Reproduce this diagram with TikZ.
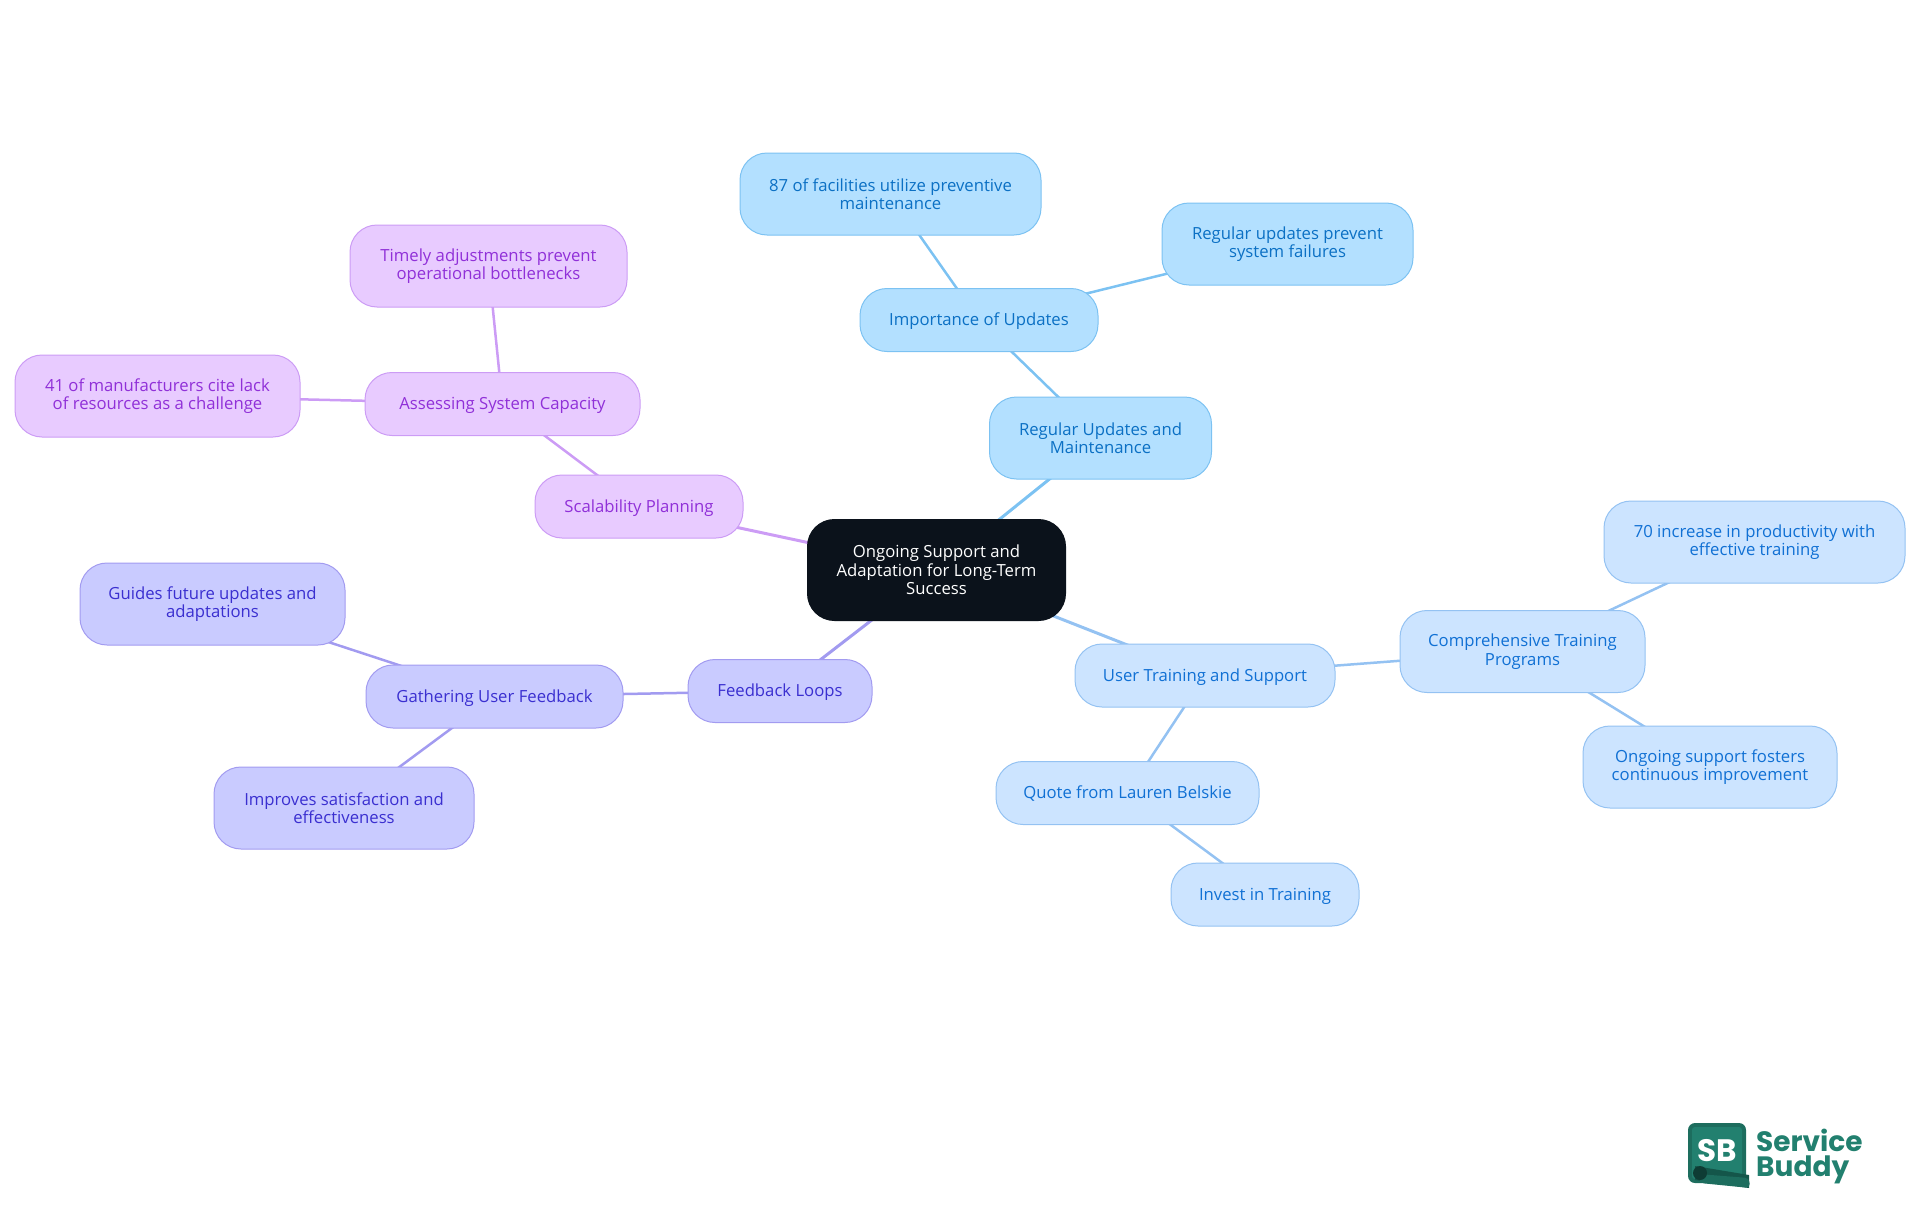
\documentclass[tikz,border=0pt]{standalone}
\usepackage{fontspec}
\setmainfont{Open Sans}
\newfontfamily\logofont{Poppins}
\usetikzlibrary{backgrounds}
\definecolor{rootfill}{HTML}{0B121B}
\definecolor{skyfill}{HTML}{B3E0FF}
\definecolor{skyline}{HTML}{7CC2F2}
\definecolor{skytext}{HTML}{0B70C4}
\definecolor{palefill}{HTML}{CCE4FF}
\definecolor{paleline}{HTML}{94C2F2}
\definecolor{paletext}{HTML}{1070D4}
\definecolor{indigofill}{HTML}{C9CBFF}
\definecolor{indigoline}{HTML}{A29BF0}
\definecolor{indigotext}{HTML}{3A2FD0}
\definecolor{purplefill}{HTML}{E8CBFF}
\definecolor{purpleline}{HTML}{CC9CF5}
\definecolor{purpletext}{HTML}{9030D8}
\definecolor{logogreen}{HTML}{22806F}
\definecolor{logodark}{HTML}{14564A}
\tikzset{
  box/.style={rectangle, rounded corners=27pt, align=center, inner sep=0pt, line width=1pt,
    font=\fontsize{16.7}{18.5}\selectfont},
  skybox/.style={box, fill=skyfill, draw=skyline, text=skytext},
  palebox/.style={box, fill=palefill, draw=paleline, text=paletext},
  indigobox/.style={box, fill=indigofill, draw=indigoline, text=indigotext},
  purplebox/.style={box, fill=purplefill, draw=purpleline, text=purpletext},
  tall/.style={minimum height=82pt},
  flat/.style={minimum height=63pt, text depth=1pt},
  near/.style={line width=3pt},
  far/.style={line width=2.5pt}
}
\begin{document}
\begin{tikzpicture}[x=1pt,y=-1pt]
\useasboundingbox (0,0) rectangle (1920,1215);
% Root
\node[box, fill=rootfill, text=white, draw=rootfill, minimum width=258pt, minimum height=101pt] (root) at (936.5,570) {Ongoing Support and\\Adaptation for Long-Term\\Success};
% Regular updates
\node[skybox, tall, minimum width=222pt] (regular) at (1100.5,438) {Regular Updates and\\Maintenance};
\node[skybox, flat, minimum width=238pt] (importance) at (979,320) {Importance of Updates};
\node[skybox, tall, minimum width=301pt] (facilities) at (890.5,194) {87 of facilities utilize preventive\\maintenance};
\node[skybox, tall, minimum width=251pt] (failures) at (1287.5,244) {Regular updates prevent\\system failures};
% User training
\node[palebox, flat, minimum width=260pt] (training) at (1205,675.5) {User Training and Support};
\node[palebox, tall, minimum width=245pt] (programs) at (1522.5,651.5) {Comprehensive Training\\Programs};
\node[palebox, tall, minimum width=301pt] (productivity) at (1754.5,542) {70 increase in productivity with\\effective training};
\node[palebox, tall, minimum width=254pt] (fosters) at (1710,767) {Ongoing support fosters\\continuous improvement};
\node[palebox, flat, minimum width=263pt] (quote) at (1127.5,793) {Quote from Lauren Belskie};
\node[palebox, flat, minimum width=188pt] (invest) at (1265,894.5) {Invest in Training};
% Feedback
\node[indigobox, flat, minimum width=184pt] (loops) at (780,691) {Feedback Loops};
\node[indigobox, flat, minimum width=257pt] (gathering) at (494.5,696.5) {Gathering User Feedback};
\node[indigobox, tall, minimum width=265pt] (guides) at (212.5,604) {Guides future updates and\\adaptations};
\node[indigobox, tall, minimum width=260pt] (improves) at (344,808) {Improves satisfaction and\\effectiveness};
% Scalability
\node[purplebox, flat, minimum width=208pt] (scalability) at (639,506.5) {Scalability Planning};
\node[purplebox, flat, minimum width=275pt] (assessing) at (502.5,404) {Assessing System Capacity};
\node[purplebox, tall, minimum width=277pt] (timely) at (488.5,266) {Timely adjustments prevent\\operational bottlenecks};
\node[purplebox, tall, minimum width=285pt] (lack) at (157.5,396) {41 of manufacturers cite lack\\of resources as a challenge};
% Connectors
\begin{scope}[on background layer]
\draw[near, skyline] (root.center) -- (regular.center);
\draw[far, skyline] (regular.center) -- (importance.center);
\draw[far, skyline] (importance.center) -- (facilities.center);
\draw[far, skyline] (importance.center) -- (failures.center);
\draw[near, paleline] (root.center) -- (training.center);
\draw[far, paleline] (training.center) -- (programs.center);
\draw[far, paleline] (programs.center) -- (productivity.center);
\draw[far, paleline] (programs.center) -- (fosters.center);
\draw[far, paleline] (training.center) -- (quote.center);
\draw[far, paleline] (quote.center) -- (invest.center);
\draw[near, indigoline] (root.center) -- (loops.center);
\draw[far, indigoline] (loops.center) -- (gathering.center);
\draw[far, indigoline] (gathering.center) -- (guides.center);
\draw[far, indigoline] (gathering.center) -- (improves.center);
\draw[near, purpleline] (root.center) -- (scalability.center);
\draw[far, purpleline] (scalability.center) -- (assessing.center);
\draw[far, purpleline] (assessing.center) -- (timely.center);
\draw[far, purpleline] (assessing.center) -- (lack.center);
\end{scope}
% Logo
\fill[logogreen!85!black, rounded corners=7pt] (1688,1123) rectangle (1746,1183);
\fill[logogreen, rounded corners=3pt] (1692,1127) rectangle (1742,1179);
\fill[logodark] (1695,1166) -- (1749,1175) -- (1749,1188) -- (1695,1180) -- cycle;
\fill[logogreen!85!black, rounded corners=4pt] (1698,1174) -- (1749,1178) -- (1750,1188) -- (1700,1183) -- cycle;
\fill[logodark!70!black] (1700,1173) circle (7pt);
\node[font=\logofont\bfseries\fontsize{31}{31}\selectfont, text=white, inner sep=0pt] (sbmark) at (1717,1151) {SB};
\node[font=\logofont\bfseries\fontsize{28}{25}\selectfont, text=logogreen, inner sep=0pt, anchor=base west] (sbservice) at (1756,1151) {Service};
\node[font=\logofont\bfseries\fontsize{28}{25}\selectfont, text=logogreen, inner sep=0pt, anchor=base west] (sbbuddy) at (1756,1176) {Buddy};
\end{tikzpicture}
\end{document}
